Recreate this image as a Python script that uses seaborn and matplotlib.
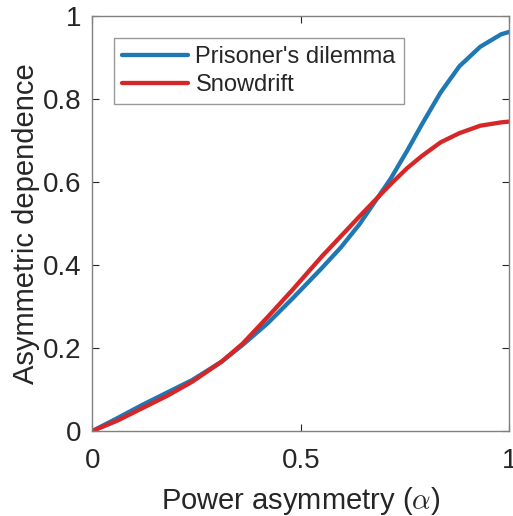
import seaborn as sns
import matplotlib.pyplot as plt
import pandas as pd

# Values
alpha = [0.0, 0.06, 0.12, 0.18, 0.24, 0.31, 0.36, 0.42, 0.48, 0.55, 0.595,
         0.64, 0.685, 0.715, 0.755, 0.79, 0.835, 0.88, 0.93, 0.98, 1.0]
prisoners_dilemma = [0.0, 0.031, 0.063, 0.093, 0.123, 0.167, 0.207, 0.259, 0.319, 0.392, 0.441,
                     0.497, 0.563, 0.607, 0.675, 0.738, 0.815, 0.878, 0.925, 0.955, 0.961]
snowdrift = [0.0, 0.025, 0.055, 0.085, 0.119, 0.167, 0.210, 0.274, 0.340, 0.420, 0.468,
             0.516, 0.563, 0.594, 0.633, 0.662, 0.695, 0.717, 0.735, 0.743, 0.745]

df = pd.concat([
    pd.DataFrame({'alpha': alpha, 'dep': prisoners_dilemma, 'game': "Prisoner's dilemma"}),
    pd.DataFrame({'alpha': alpha, 'dep': snowdrift, 'game': 'Snowdrift'}),
])

sns.set_theme(style='ticks')
plt.rcParams['font.family'] = ['Liberation Sans', 'DejaVu Sans']
plt.rcParams['mathtext.fontset'] = 'cm'

fig = plt.figure(figsize=(5.13, 5.16), dpi=100)
ax = fig.add_axes([0.18, 0.1647, 0.813, 0.805])

sns.lineplot(data=df, x='alpha', y='dep', hue='game',
             palette=['#1f77b4', '#d62728'], linewidth=3.1, ax=ax)

ax.set_xlim(0, 1)
ax.set_ylim(0, 1)
ax.set_xticks([0, 0.5, 1])
ax.set_xticklabels(['0', '0.5', '1'])
ax.set_yticks([0, 0.2, 0.4, 0.6, 0.8, 1])
ax.set_yticklabels(['0', '0.2', '0.4', '0.6', '0.8', '1'])
ax.tick_params(direction='in', top=True, right=True, labelsize=20,
               colors='#262626', length=5, width=0.8)
ax.tick_params(axis='x', pad=12)
ax.tick_params(axis='y', pad=8)
for s in ax.spines.values():
    s.set_color('#808080')
    s.set_linewidth(1.0)
    s.set_visible(True)

ax.set_xlabel(r'Power asymmetry ($\alpha$)', fontsize=21, color='#262626', labelpad=8)
ax.set_ylabel('Asymmetric dependence', fontsize=21, color='#262626', labelpad=2)

leg = ax.legend(loc='upper left', bbox_to_anchor=(0.052, 0.946), borderaxespad=0,
                fontsize=17, frameon=True, fancybox=False, edgecolor='#808080',
                handlelength=2.8, handletextpad=0.3, borderpad=0.35, labelspacing=0.25)
leg.get_frame().set_linewidth(1.0)

fig.savefig('out.png', dpi=100)
